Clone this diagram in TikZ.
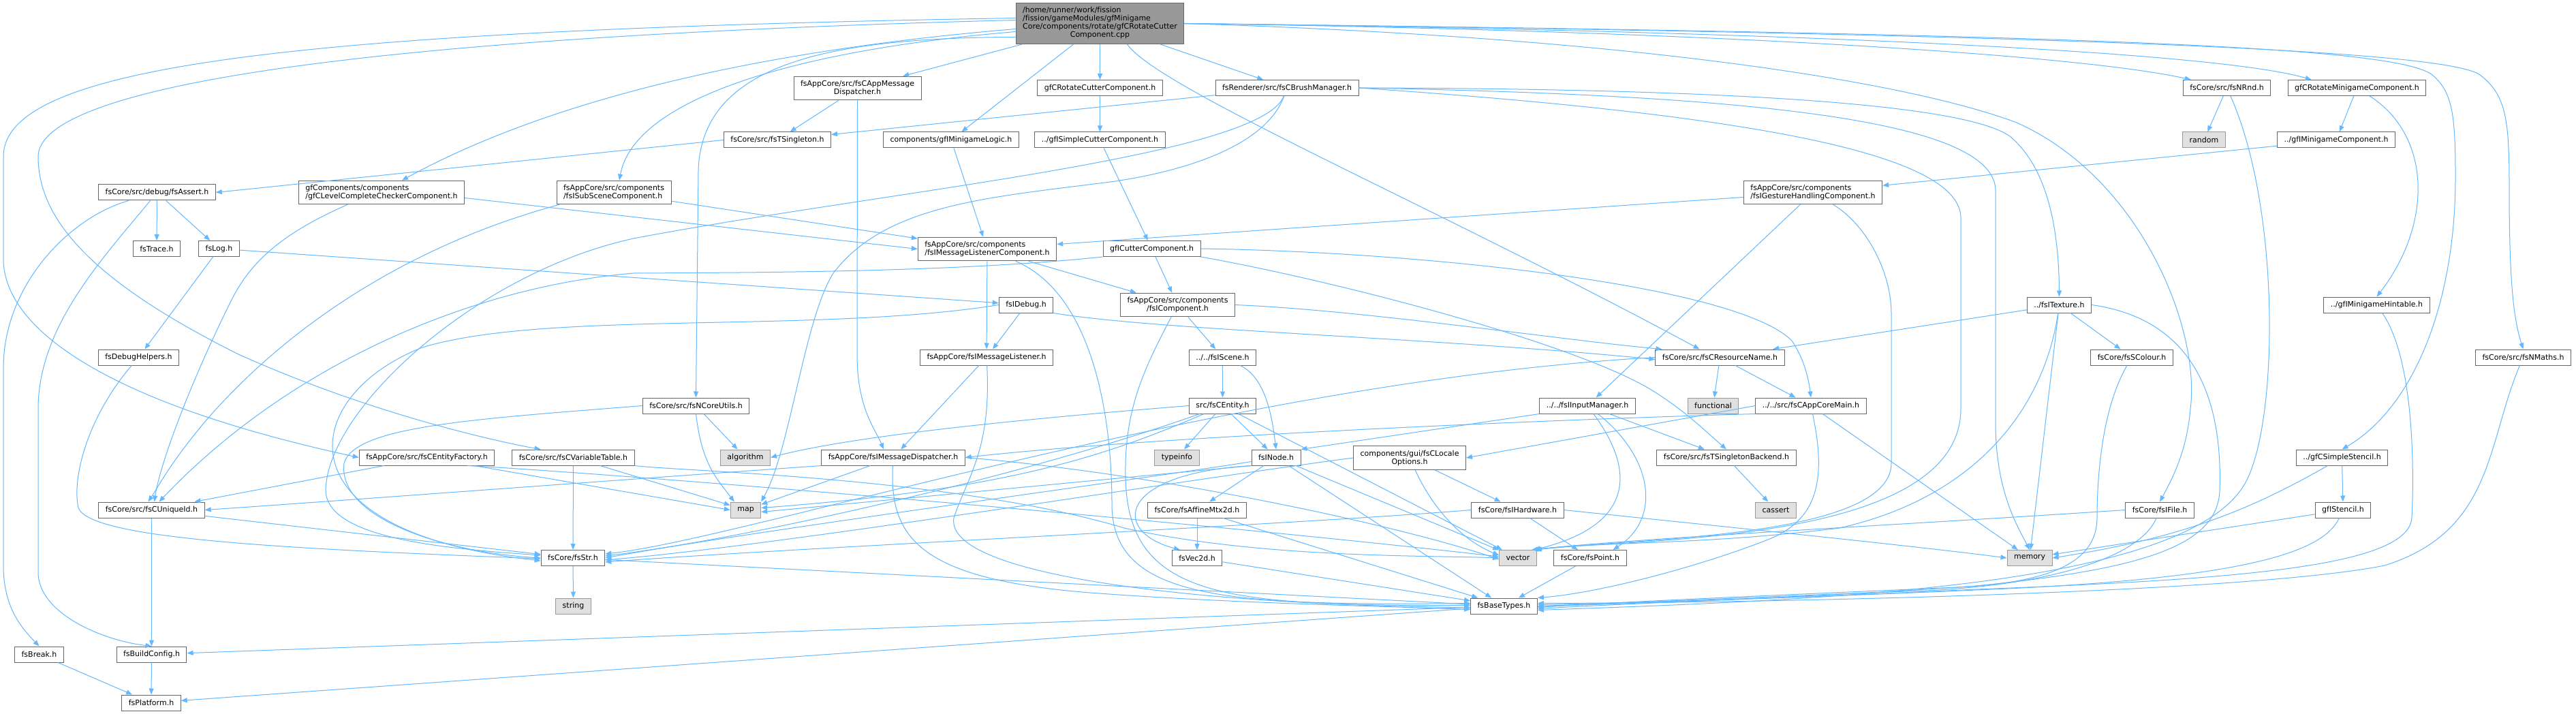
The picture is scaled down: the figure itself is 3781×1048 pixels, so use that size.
\documentclass[tikz,border=0pt]{standalone}
\usepackage{fontspec}
\setmainfont{DejaVu Sans}[Ligatures=NoCommon]
\usetikzlibrary{arrows.meta}
\definecolor{edgeblue}{HTML}{63B8FF}
\definecolor{boxline}{HTML}{666666}
\definecolor{sysline}{HTML}{999999}
\definecolor{sysfill}{HTML}{E0E0E0}
\definecolor{rootfill}{HTML}{999999}
\begin{document}
\begin{tikzpicture}[x=1pt, y=-1pt,
    hdr/.style={draw=boxline, fill=white, line width=1pt, font=\fontsize{11}{12}\selectfont, inner xsep=10pt, inner ysep=6pt, minimum height=23pt},
    sys/.style={hdr, draw=sysline, fill=sysfill},
    rootbox/.style={hdr, fill=rootfill},
    dep/.style={color=edgeblue, line width=1pt, -{Triangle[length=9pt, width=7pt]}}]
    \path[use as bounding box, fill=white] (0,0) rectangle (3781,1048);
    \node[rootbox] (root) at (1614.5,34.5) {\begin{tabular}{@{}l@{}}/home/runner/work/fission\\/fission/gameModules/gfMinigame\\Core/components/rotate/gfCRotateCutter\\\multicolumn{1}{@{}c@{}}{Component.cpp}\end{tabular}};
    \node[hdr, align=center] (amd) at (1258.5,129.5) {fsAppCore/src/fsCAppMessage\\Dispatcher.h};
    \node[hdr] (rcc) at (1614.5,129) {gfCRotateCutterComponent.h};
    \node[hdr] (bm) at (1889,129) {fsRenderer/src/fsCBrushManager.h};
    \node[hdr] (nrnd) at (3268.5,129) {fsCore/src/fsNRnd.h};
    \node[hdr] (rotmini) at (3459.5,129) {gfCRotateMinigameComponent.h};
    \node[hdr] (tsing) at (1141,205.5) {fsCore/src/fsTSingleton.h};
    \node[hdr] (mlogic) at (1396,205.5) {components/gfIMinigameLogic.h};
    \node[hdr] (scut) at (1614.5,205.5) {../gfISimpleCutterComponent.h};
    \node[sys] (random) at (3235,205.5) {random};
    \node[hdr] (minicomp) at (3429,205.5) {../gfIMinigameComponent.h};
    \node[hdr] (assert) at (230.5,282.5) {fsCore/src/debug/fsAssert.h};
    \node[hdr, align=left] (lcc) at (560,282.5) {gfComponents/components\\/gfCLevelCompleteCheckerComponent.h};
    \node[hdr, align=left] (subsc) at (901,282.5) {fsAppCore/src/components\\/fsISubSceneComponent.h};
    \node[hdr, align=left] (gesture) at (2661,282.5) {fsAppCore/src/components\\/fsIGestureHandlingComponent.h};
    \node[hdr] (trace) at (230,365) {fsTrace.h};
    \node[hdr] (log) at (321.5,365) {fsLog.h};
    \node[hdr, align=left] (mlc) at (1449,365.5) {fsAppCore/src/components\\/fsIMessageListenerComponent.h};
    \node[hdr] (cutter) at (1690.5,365) {gfICutterComponent.h};
    \node[hdr, align=center] (icomp) at (1728.5,447.5) {fsAppCore/src/components\\/fsIComponent.h};
    \node[hdr] (idebug) at (1506,447.5) {fsIDebug.h};
    \node[hdr] (texture) at (3022.5,447.5) {../fsITexture.h};
    \node[hdr] (hint) at (3488.5,447.5) {../gfIMinigameHintable.h};
    \node[hdr] (dbghelp) at (203.5,524.5) {fsDebugHelpers.h};
    \node[hdr] (imlist) at (1448,524.5) {fsAppCore/fsIMessageListener.h};
    \node[hdr] (iscene) at (1794.5,524.5) {../../fsIScene.h};
    \node[hdr] (resname) at (2524.5,524.5) {fsCore/src/fsCResourceName.h};
    \node[hdr] (scolour) at (3129,524.5) {fsCore/fsSColour.h};
    \node[hdr] (nmaths) at (3703.5,524.5) {fsCore/src/fsNMaths.h};
    \node[hdr] (coreutil) at (1021.5,595.5) {fsCore/src/fsNCoreUtils.h};
    \node[hdr] (entity) at (1794.5,595.5) {src/fsCEntity.h};
    \node[hdr] (input) at (2330,595.5) {../../fsIInputManager.h};
    \node[sys] (functional) at (2514.5,595.5) {functional};
    \node[hdr] (appmain) at (2658,595.5) {../../src/fsCAppCoreMain.h};
    \node[hdr] (entfac) at (626.5,671.5) {fsAppCore/src/fsCEntityFactory.h};
    \node[hdr] (vartab) at (841.5,671.5) {fsCore/src/fsCVariableTable.h};
    \node[sys] (algorithm) at (1094,671.5) {algorithm};
    \node[hdr] (imdisp) at (1311,671.5) {fsAppCore/fsIMessageDispatcher.h};
    \node[sys] (typeinfo) at (1727.5,671.5) {typeinfo};
    \node[hdr] (inode) at (1873,671.5) {fsINode.h};
    \node[hdr, align=center] (locale) at (2069,672) {components/gui/fsCLocale\\Options.h};
    \node[hdr] (tsback) at (2534,671.5) {fsCore/src/fsTSingletonBackend.h};
    \node[hdr] (sstencil) at (3437.5,671.5) {../gfCSimpleStencil.h};
    \node[hdr] (uid) at (222.5,748.5) {fsCore/src/fsCUniqueId.h};
    \node[sys] (map) at (1094.5,748.5) {map};
    \node[hdr] (affine) at (1757,748.5) {fsCore/fsAffineMtx2d.h};
    \node[hdr] (ihw) at (2227.5,748.5) {fsCore/fsIHardware.h};
    \node[sys] (cassert) at (2606.5,748.5) {cassert};
    \node[hdr] (ifile) at (3170,748.5) {fsCore/fsIFile.h};
    \node[hdr] (istencil) at (3439,748.5) {gfIStencil.h};
    \node[hdr] (str) at (841,819) {fsCore/fsStr.h};
    \node[hdr] (vec2d) at (1757,819) {fsVec2d.h};
    \node[sys] (vector) at (2228,819) {vector};
    \node[hdr] (point) at (2334,819) {fsCore/fsPoint.h};
    \node[sys] (memory) at (2979,819) {memory};
    \node[sys] (string) at (841.5,889.5) {string};
    \node[hdr] (basetypes) at (2207.5,889.5) {fsBaseTypes.h};
    \node[hdr] (brk) at (57.5,960.5) {fsBreak.h};
    \node[hdr] (bconf) at (222.5,960.5) {fsBuildConfig.h};
    \node[hdr] (platform) at (222,1031.5) {fsPlatform.h};
    \draw[dep] (root) to (amd);
    \draw[dep] (root) to (mlogic);
    \draw[dep] (root) to (rcc);
    \draw[dep] (root) to (bm);
    \draw[dep] ([xshift=40pt]root.south) .. controls (1700,130) and (2100,300) .. ([xshift=-30pt]resname.north);
    \draw[dep] (root.east) .. controls (2500,45) and (3050,80) .. ([xshift=12pt]nrnd.north west);
    \draw[dep] (root.east) .. controls (2600,45) and (3250,75) .. ([xshift=35pt]rotmini.north west);
    \draw[dep] (root.east) .. controls (3100,50) and (3520,70) .. (3570,110) .. controls (3600,135) and (3604,170) .. (3604,260) .. controls (3604,450) and (3540,600) .. (sstencil.north);
    \draw[dep] (root.east) .. controls (3200,52) and (3600,80) .. (3640,110) .. controls (3680,140) and (3683,180) .. (3683,280) .. controls (3683,420) and (3690,470) .. (nmaths.north);
    \draw[dep] (root.east) .. controls (2400,55) and (2800,120) .. (2960,180) .. controls (3140,260) and (3230,480) .. (3215,600) .. controls (3210,660) and (3190,700) .. (ifile.north);
    \draw[dep] ([yshift=-20pt]root.west) .. controls (1200,55) and (1030,100) .. (1025,250) -- (coreutil.north);
    \draw[dep] ([yshift=-8pt]root.west) .. controls (1100,75) and (800,150) .. ([xshift=30pt]lcc.north);
    \draw[dep] ([yshift=-12pt]root.west) .. controls (1150,75) and (930,150) .. ([xshift=8pt]subsc.north);
    \draw[dep] ([yshift=8pt]root.west) .. controls (400,45) and (5,100) .. (5,230) -- (5,380) .. controls (5,480) and (150,590) .. (entfac.west);
    \draw[dep] ([yshift=5pt]root.west) .. controls (500,55) and (56,130) .. (56,230) .. controls (56,330) and (150,420) .. (350,520) .. controls (550,610) and (740,650) .. ([xshift=-48pt]vartab.north);
    \draw[dep] (amd) to (tsing);
    \draw[dep] (amd.south) -- (1258,520) .. controls (1258,600) and (1285,630) .. ([xshift=-14pt]imdisp.north);
    \draw[dep] (rcc) to (scut);
    \draw[dep] (scut) to (cutter);
    \draw[dep] (mlogic) to (mlc);
    \draw[dep] (bm) to (tsing);
    \draw[dep] (bm) .. controls (1850,230) and (1300,280) .. (930,350) .. controls (700,400) and (480,600) .. (478,720) .. controls (480,790) and (650,805) .. ([yshift=4pt]str.west);
    \draw[dep] (bm) .. controls (1860,210) and (1750,250) .. (1630,267) .. controls (1450,290) and (1300,300) .. (1223,401) .. controls (1180,470) and (1160,660) .. (map.north east);
    \draw[dep] (bm.east) .. controls (2500,130) and (2880,150) .. (2950,200) .. controls (3010,250) and (3022,350) .. (texture.north);
    \draw[dep] (bm.east) .. controls (2600,140) and (2929,180) .. (2929,280) -- (2929,620) .. controls (2929,720) and (2960,770) .. (memory.north);
    \draw[dep] (bm.east) .. controls (2600,170) and (2878,230) .. (2878,320) -- (2878,600) .. controls (2878,800) and (2400,790) .. ([xshift=-6pt]vector.north east);
    \draw[dep] (tsing.west) to (assert.east);
    \draw[dep] (nrnd) to (random);
    \draw[dep] (nrnd) .. controls (3345,300) and (3345,600) .. (3300,700) .. controls (3230,860) and (2700,880) .. ([yshift=-6pt]basetypes.east);
    \draw[dep] (rotmini) to (minicomp);
    \draw[dep] (rotmini) .. controls (3570,200) and (3570,330) .. (hint.north);
    \draw[dep] (minicomp) to (gesture);
    \draw[dep] (assert) to (trace);
    \draw[dep] (assert) to (log);
    \draw[dep] (assert) .. controls (100,320) and (5,420) .. (5,540) -- (5,830) .. controls (5,890) and (30,920) .. (brk.north);
    \draw[dep] (assert) .. controls (150,380) and (56,480) .. (56,600) -- (56,840) .. controls (56,900) and (150,940) .. (bconf.north);
    \draw[dep] ([yshift=-8pt]lcc.east) to (mlc.west);
    \draw[dep] ([xshift=-50pt]lcc.south) .. controls (420,340) and (370,380) .. (340,440) .. controls (280,560) and (235,680) .. ([xshift=4pt]uid.north);
    \draw[dep] (subsc) to (mlc);
    \draw[dep] ([xshift=-80pt]subsc.south) .. controls (600,360) and (420,480) .. (300,620) .. controls (250,680) and (235,710) .. ([xshift=-5pt]uid.north);
    \draw[dep] (gesture) to (mlc);
    \draw[dep] (gesture) to (input);
    \draw[dep] (gesture) .. controls (2740,330) and (2776,400) .. (2776,460) -- (2776,680) .. controls (2776,790) and (2400,790) .. ([xshift=-2pt]vector.north east);
    \draw[dep] (log) to (dbghelp);
    \draw[dep] (log) to (idebug);
    \draw[dep] (mlc) to (imlist);
    \draw[dep] (mlc) to (icomp);
    \draw[dep] (mlc) .. controls (1600,430) and (1632,600) .. (1632,740) .. controls (1632,880) and (1800,889) .. ([yshift=4pt]basetypes.west);
    \draw[dep] (cutter) to (icomp);
    \draw[dep] (cutter.south west) .. controls (1400,400) and (1100,400) .. (930,401) .. controls (700,420) and (430,530) .. ([xshift=11pt]uid.north);
    \draw[dep] (cutter.east) .. controls (2100,370) and (2550,420) .. (2630,500) .. controls (2650,530) and (2655,560) .. (appmain.north);
    \draw[dep] (cutter.south east) .. controls (1950,410) and (2300,500) .. (2420,570) .. controls (2470,600) and (2500,630) .. (tsback.north);
    \draw[dep] (icomp) to (iscene);
    \draw[dep] (icomp) .. controls (1680,540) and (1650,600) .. (1652,700) .. controls (1655,880) and (1800,889) .. ([yshift=1pt]basetypes.west);
    \draw[dep] (icomp.east) .. controls (2000,455) and (2300,500) .. ([xshift=10pt]resname.north west);
    \draw[dep] (idebug) to (imlist);
    \draw[dep] (idebug.south east) .. controls (1700,485) and (2100,495) .. ([yshift=-3pt]resname.west);
    \draw[dep] (idebug.west) .. controls (1200,490) and (800,455) .. (620,510) .. controls (440,580) and (400,780) .. ([yshift=-4pt]str.west);
    \draw[dep] (texture) to (resname);
    \draw[dep] (texture) to (scolour);
    \draw[dep] (texture) to (memory);
    \draw[dep] (texture) .. controls (3000,600) and (2900,730) .. (2700,775) .. controls (2500,800) and (2350,795) .. ([xshift=-4pt]vector.north east);
    \draw[dep] (texture.east) .. controls (3230,470) and (3262,600) .. (3258,720) .. controls (3255,800) and (3150,835) .. (2900,860) .. controls (2700,875) and (2400,885) .. ([yshift=-4pt]basetypes.east);
    \draw[dep] (hint) .. controls (3545,530) and (3543,700) .. (3540,760) .. controls (3535,830) and (3300,850) .. (2900,865) .. controls (2700,875) and (2400,885) .. ([yshift=2pt]basetypes.east);
    \draw[dep] (scolour) .. controls (3085,600) and (3078,700) .. (3078,760) .. controls (3078,830) and (3000,858) .. (2850,863) .. controls (2650,872) and (2400,882) .. ([yshift=-2pt]basetypes.east);
    \draw[dep] (nmaths) .. controls (3650,650) and (3660,780) .. (3500,830) .. controls (3300,870) and (2600,885) .. ([yshift=4pt]basetypes.east);
    \draw[dep] (ifile) .. controls (3140,820) and (3000,862) .. (2800,868) .. controls (2600,875) and (2400,885) .. (basetypes.east);
    \draw[dep] (ifile.west) .. controls (2800,770) and (2400,790) .. ([xshift=-8pt]vector.north east);
    \draw[dep] (sstencil) to (istencil);
    \draw[dep] (sstencil) .. controls (3300,750) and (3200,790) .. (memory.east);
    \draw[dep] (istencil) to (memory);
    \draw[dep] (istencil) .. controls (3410,810) and (3300,850) .. (2900,866) .. controls (2700,875) and (2400,885) .. ([yshift=-1pt]basetypes.east);
    \draw[dep] (dbghelp) .. controls (130,610) and (105,700) .. (115,745) .. controls (130,790) and (400,805) .. ([yshift=-1pt]str.west);
    \draw[dep] (imlist) to (imdisp);
    \draw[dep] (imlist) .. controls (1455,660) and (1420,700) .. (1400,760) .. controls (1385,850) and (1800,889) .. ([yshift=-2pt]basetypes.west);
    \draw[dep] (iscene) to (entity);
    \draw[dep] (iscene) .. controls (1860,555) and (1868,620) .. (inode.north);
    \draw[dep] (resname) to (functional);
    \draw[dep] (resname) to (appmain);
    \draw[dep] (resname.west) .. controls (1800,560) and (1100,790) .. ([yshift=6pt]str.east);
    \draw[dep] (coreutil) to (algorithm);
    \draw[dep] (coreutil.south) .. controls (1030,680) and (1050,700) .. ([xshift=6pt]map.north west);
    \draw[dep] (coreutil.west) .. controls (700,615) and (520,625) .. (505,680) .. controls (495,760) and (650,810) .. (str.west);
    \draw[dep] (entity) to (typeinfo);
    \draw[dep] (entity) to (inode);
    \draw[dep] (entity.west) .. controls (1500,615) and (1250,640) .. (algorithm.east);
    \draw[dep] (entity) .. controls (1600,680) and (1450,720) .. ([yshift=3pt]map.east);
    \draw[dep] (entity) .. controls (1500,700) and (1100,790) .. ([yshift=3pt]str.east);
    \draw[dep] (entity) to (vector);
    \draw[dep] (input) .. controls (2400,690) and (2400,770) .. ([xshift=-4pt]vector.north east);
    \draw[dep] (input) .. controls (2425,670) and (2440,760) .. ([xshift=-20pt]point.north east);
    \draw[dep] (input) to (tsback);
    \draw[dep] (input.south west) to (inode.north east);
    \draw[dep] (appmain.west) to (locale.east);
    \draw[dep] (appmain) .. controls (2680,700) and (2670,760) .. (2600,790) .. controls (2500,830) and (2350,870) .. (basetypes.north east);
    \draw[dep] (appmain) to (memory);
    \draw[dep] (appmain.south west) .. controls (2300,615) and (1700,640) .. (imdisp.east);
    \draw[dep] (inode) to (affine);
    \draw[dep] (inode.south west) .. controls (1640,695) and (1630,780) .. ([xshift=-25pt]vec2d.north);
    \draw[dep] (inode) to (vector);
    \draw[dep] (inode) to (basetypes);
    \draw[dep] (inode) .. controls (1700,700) and (1100,780) .. (str.east);
    \draw[dep] (inode.south west) to ([yshift=-3pt]map.east);
    \draw[dep] (affine) to (vec2d);
    \draw[dep] (affine) to (basetypes);
    \draw[dep] (vec2d) to (basetypes);
    \draw[dep] (locale) to (ihw);
    \draw[dep] (locale.west) .. controls (1700,710) and (1150,800) .. ([yshift=-3pt]str.east);
    \draw[dep] (locale) .. controls (2100,740) and (2140,790) .. ([yshift=4pt]vector.west);
    \draw[dep] (ihw) to (point);
    \draw[dep] (ihw.west) .. controls (1900,770) and (1150,805) .. ([yshift=-6pt]str.east);
    \draw[dep] (ihw.east) .. controls (2500,770) and (2800,800) .. (memory.west);
    \draw[dep] (tsback) to (cassert);
    \draw[dep] (uid) to (bconf);
    \draw[dep] (uid) to (str);
    \draw[dep] (entfac) to (uid);
    \draw[dep] ([xshift=-30pt]entfac.south east) to (map.west);
    \draw[dep] ([xshift=-40pt]entfac.south east) .. controls (900,695) and (1700,760) .. ([yshift=2pt]vector.west);
    \draw[dep] (vartab) to (str);
    \draw[dep] (vartab) to (map);
    \draw[dep] (vartab.south east) .. controls (1000,692) and (1400,700) .. (1650,775) .. controls (1850,820) and (2100,815) .. (vector.west);
    \draw[dep] (imdisp) to (map);
    \draw[dep] (imdisp.south west) .. controls (900,705) and (500,735) .. (uid.east);
    \draw[dep] (imdisp) .. controls (1305,790) and (1350,850) .. (1600,870) .. controls (1800,885) and (2000,889) .. ([yshift=-5pt]basetypes.west);
    \draw[dep] (imdisp.east) .. controls (1700,695) and (2050,770) .. ([yshift=-2pt]vector.west);
    \draw[dep] (str) to (string);
    \draw[dep] (str) to (basetypes);
    \draw[dep] (point) to (basetypes);
    \draw[dep] (basetypes) to (bconf);
    \draw[dep] (basetypes) to (platform);
    \draw[dep] (bconf) to (platform);
    \draw[dep] (brk) to (platform);
\end{tikzpicture}
\end{document}
